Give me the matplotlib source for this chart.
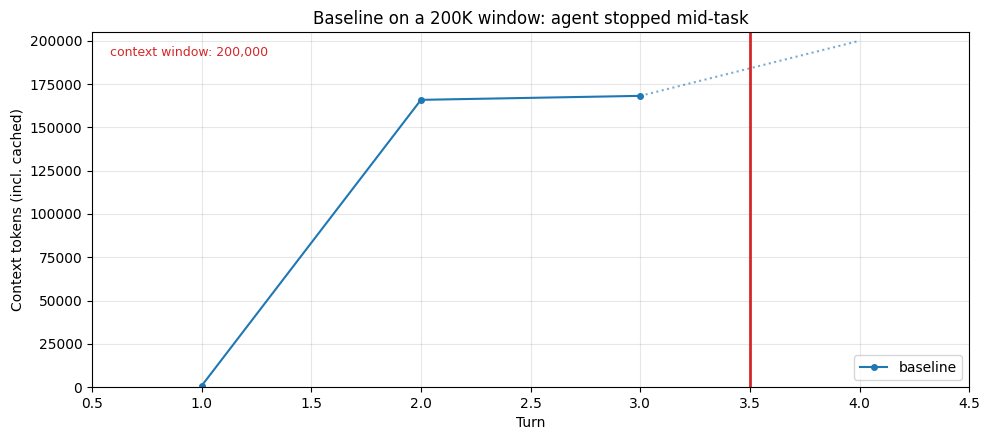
import numpy as np
import matplotlib
matplotlib.use("Agg")
import matplotlib.pyplot as plt

# data
turns = [1, 2, 3]
tokens = [800, 165900, 168200]
proj_turns = [3, 4]
proj_tokens = [168200, 200000]
context_window = 200000
stop_turn = 3.5

fig, ax = plt.subplots(figsize=(9.89, 4.4), dpi=100)
ax.plot(turns, tokens, marker='o', markersize=4, color='tab:blue', label='baseline')
ax.plot(proj_turns, proj_tokens, linestyle=':', color='tab:blue', alpha=0.6)
ax.axvline(stop_turn, color='tab:red', linewidth=2)
ax.text(0.02, 0.96, 'context window: 200,000', transform=ax.transAxes,
        color='tab:red', fontsize=9, va='top', ha='left')

ax.set_xlim(0.5, 4.5)
ax.set_ylim(0, context_window * 1.025)
ax.set_xlabel('Turn')
ax.set_ylabel('Context tokens (incl. cached)')
ax.set_title('Baseline on a 200K window: agent stopped mid-task')
ax.grid(True, alpha=0.3)
ax.legend(loc='lower right')
fig.subplots_adjust(left=0.093, right=0.98, bottom=0.12, top=0.927)
fig.savefig('out.png', dpi=100)
